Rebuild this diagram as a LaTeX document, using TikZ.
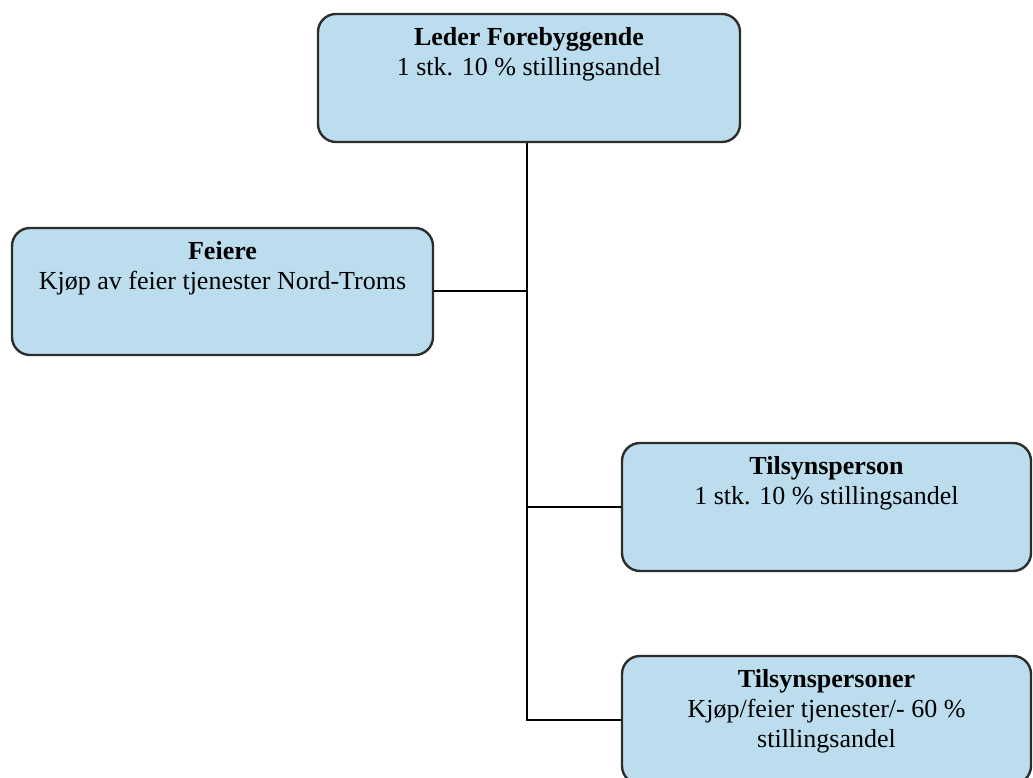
\documentclass[tikz,border=0pt]{standalone}
\usepackage{fontspec}
\setmainfont{Liberation Serif}
\definecolor{boxfill}{RGB}{187,221,237}
\definecolor{boxline}{RGB}{45,45,45}
\tikzset{
  orgbox/.style={draw=boxline, fill=boxfill, line width=2.4pt, rounded corners=18pt, inner sep=0pt},
  orgtxt/.style={anchor=north, align=center, inner sep=0pt, font=\fontsize{26}{30}\selectfont},
  conn/.style={draw=black, line width=2pt}
}
\begin{document}
\begin{tikzpicture}[x=1pt,y=1pt]
\useasboundingbox (0,0) rectangle (1033,778);
\node[orgbox, minimum width=422pt, minimum height=128pt] (leder) at (529,700) {};
\node[orgbox, minimum width=421pt, minimum height=127pt] (feiere) at (222.5,486.5) {};
\node[orgbox, minimum width=409pt, minimum height=128pt] (tils) at (826.5,271) {};
\node[orgbox, minimum width=409pt, minimum height=128pt] (tilsp) at (826.5,58) {};
\node[orgtxt] (ledertxt) at ([yshift=-14pt]leder.north) {\textbf{Leder Forebyggende}\\1 stk. 10 \% stillingsandel};
\node[orgtxt] (feieretxt) at ([yshift=-14pt]feiere.north) {\textbf{Feiere}\\Kjøp av feier tjenester Nord-Troms};
\node[orgtxt] (tilstxt) at ([yshift=-14pt]tils.north) {\textbf{Tilsynsperson}\\1 stk. 10 \% stillingsandel};
\node[orgtxt] (tilsptxt) at ([yshift=-14pt]tilsp.north) {\textbf{Tilsynspersoner}\\Kjøp/feier tjenester/- 60 \%\\stillingsandel};
\coordinate (trunk) at ([xshift=-2pt]leder.south);
\draw[conn] (trunk) |- (tilsp.west);
\draw[conn] (feiere.east) -- (feiere.east -| trunk);
\draw[conn] (tils.west) -- (tils.west -| trunk);
\end{tikzpicture}
\end{document}
